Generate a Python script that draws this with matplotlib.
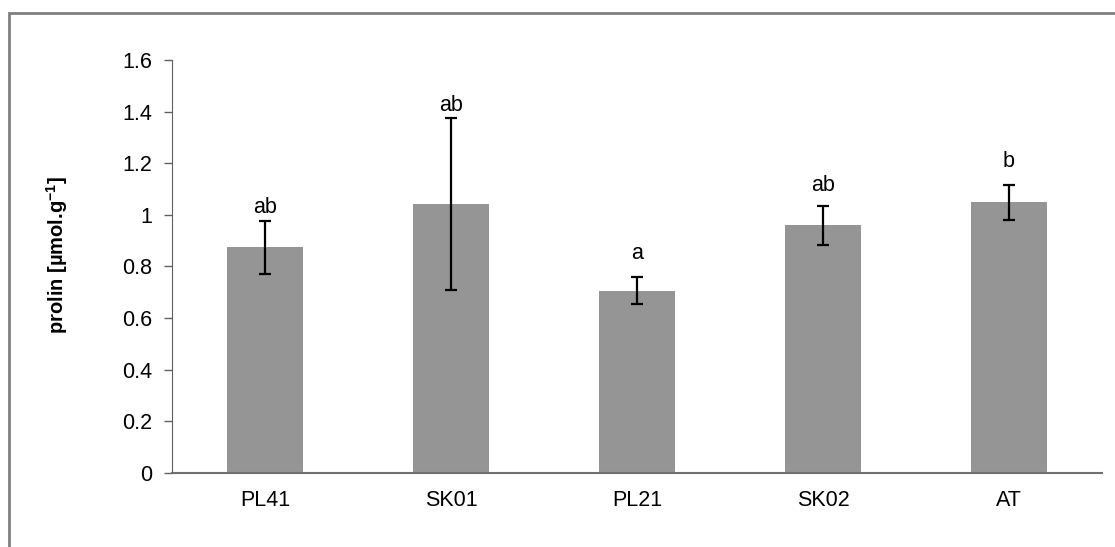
import matplotlib.pyplot as plt
from matplotlib.patches import Rectangle

# data
categories = ['PL41', 'SK01', 'PL21', 'SK02', 'AT']
means = [0.875, 1.042, 0.707, 0.959, 1.049]
errors = [0.103, 0.334, 0.053, 0.075, 0.068]
letters = ['ab', 'ab', 'a', 'ab', 'b']

plt.rcParams['font.family'] = ['Liberation Sans', 'DejaVu Sans']
plt.rcParams['mathtext.fontset'] = 'custom'
plt.rcParams['mathtext.bf'] = 'Liberation Sans:bold'
plt.rcParams['mathtext.default'] = 'bf'

fig = plt.figure(figsize=(11.15, 5.47), dpi=100)
ax = fig.add_axes([0.1543, 0.1353, 0.8340, 0.7550])

x = list(range(len(categories)))
ax.bar(x, means, width=0.41, color='#959595', zorder=2)
ax.errorbar(x, means, yerr=errors, fmt='none', ecolor='black',
            elinewidth=1.6, capsize=4, capthick=1.6, zorder=3)

# letters above the error bars (pixel offsets per bar)
offs = [2, 1, 9, 7, 9]
for i in x:
    ax.annotate(letters[i], (i, means[i] + errors[i]), xytext=(0, offs[i]),
                textcoords='offset points', ha='center', va='bottom',
                fontsize=15.5)

ax.set_xlim(-0.5, len(categories) - 0.5)
ax.set_ylim(0, 1.6)
ax.set_yticks([0, 0.2, 0.4, 0.6, 0.8, 1, 1.2, 1.4, 1.6])
ax.set_yticklabels(['0', '0.2', '0.4', '0.6', '0.8', '1', '1.2', '1.4', '1.6'])
ax.set_xticks(x)
ax.set_xticklabels(categories)
ax.tick_params(axis='y', direction='out', length=6, width=1, color='#606060',
               labelsize=15.5, pad=8)
ax.tick_params(axis='x', length=0, labelsize=15.5, pad=12)

for s in ['top', 'right']:
    ax.spines[s].set_visible(False)
ax.spines['left'].set_color('#606060')
ax.spines['bottom'].set_color('#707070')
ax.spines['bottom'].set_linewidth(1.5)

ax.set_ylabel('prolin [µmol.g$^{-1}$]', fontsize=14.5, fontweight='bold')
ax.yaxis.set_label_coords(-0.110, 0.527)

# outer chart border
fig.patches.append(Rectangle((9 / 1115, -0.1), 1.2, 1.1 - 13 / 547,
                             transform=fig.transFigure, fill=False,
                             edgecolor='#808080', linewidth=2))

plt.savefig('out.png', dpi=100)
